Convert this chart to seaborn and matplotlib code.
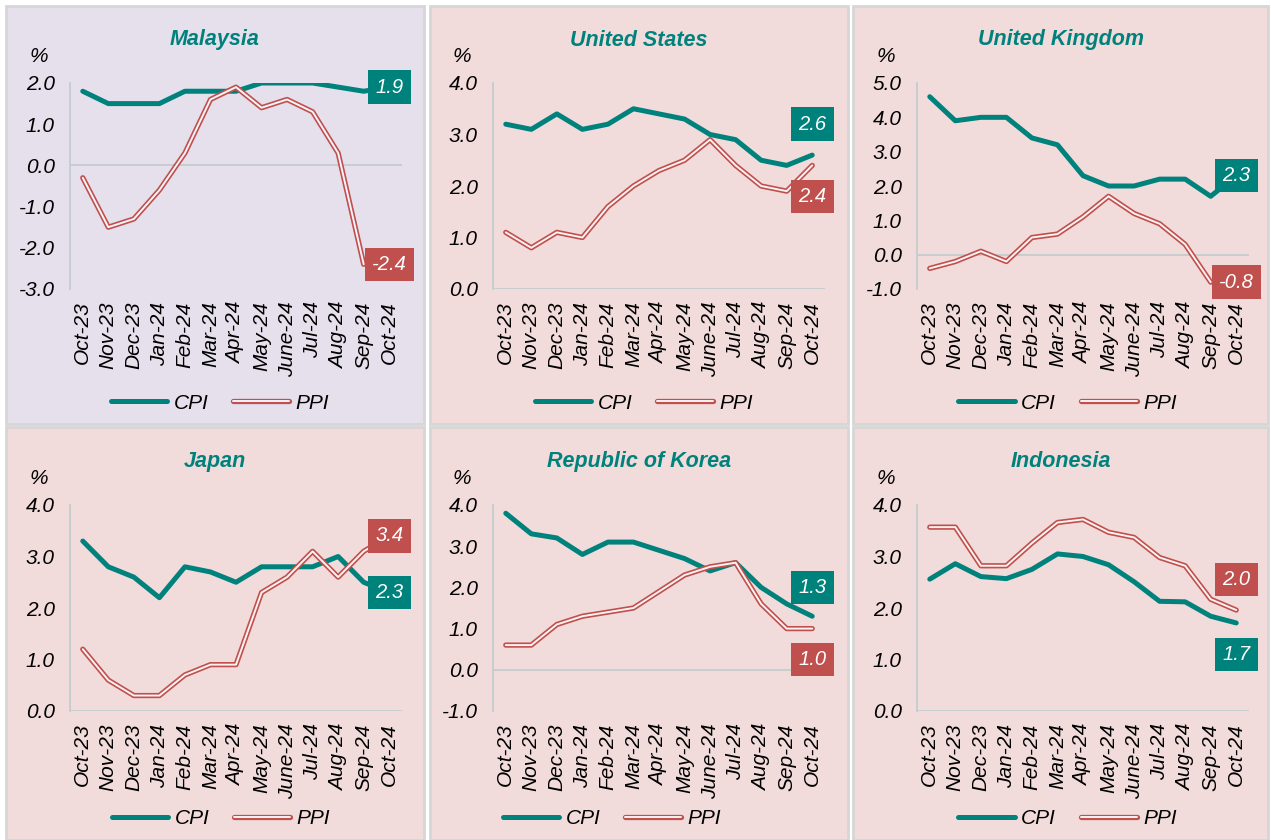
"""CPI and PPI trends, six economies, Oct-23 to Oct-24."""
import matplotlib

matplotlib.use("Agg")
import matplotlib.pyplot as plt
import numpy as np
import pandas as pd
import seaborn as sns
from matplotlib.lines import Line2D
from matplotlib.patches import Rectangle

months = ["Oct-23", "Nov-23", "Dec-23", "Jan-24", "Feb-24", "Mar-24", "Apr-24",
          "May-24", "June-24", "Jul-24", "Aug-24", "Sep-24", "Oct-24"]

countries = ["Malaysia", "United States", "United Kingdom",
             "Japan", "Republic of Korea", "Indonesia"]

nan = np.nan
cpi_malaysia = [1.8, 1.5, 1.5, 1.5, 1.8, 1.8, 1.8, 2.0, 2.0, 2.0, 1.9, 1.8, 1.9]
ppi_malaysia = [-0.3, -1.5, -1.3, -0.6, 0.3, 1.6, 1.9, 1.4, 1.6, 1.3, 0.3, -2.4, nan]
cpi_us = [3.2, 3.1, 3.4, 3.1, 3.2, 3.5, 3.4, 3.3, 3.0, 2.9, 2.5, 2.4, 2.6]
ppi_us = [1.1, 0.8, 1.1, 1.0, 1.6, 2.0, 2.3, 2.5, 2.9, 2.4, 2.0, 1.9, 2.4]
cpi_uk = [4.6, 3.9, 4.0, 4.0, 3.4, 3.2, 2.3, 2.0, 2.0, 2.2, 2.2, 1.7, 2.3]
ppi_uk = [-0.4, -0.2, 0.1, -0.2, 0.5, 0.6, 1.1, 1.7, 1.2, 0.9, 0.3, -0.8, nan]
cpi_japan = [3.3, 2.8, 2.6, 2.2, 2.8, 2.7, 2.5, 2.8, 2.8, 2.8, 3.0, 2.5, 2.3]
ppi_japan = [1.2, 0.6, 0.3, 0.3, 0.7, 0.9, 0.9, 2.3, 2.6, 3.1, 2.6, 3.1, 3.4]
cpi_korea = [3.8, 3.3, 3.2, 2.8, 3.1, 3.1, 2.9, 2.7, 2.4, 2.6, 2.0, 1.6, 1.3]
ppi_korea = [0.6, 0.6, 1.1, 1.3, 1.4, 1.5, 1.9, 2.3, 2.5, 2.6, 1.6, 1.0, 1.0]
cpi_indonesia = [2.56, 2.86, 2.61, 2.57, 2.75, 3.05, 3.00, 2.84, 2.51, 2.13, 2.12, 1.84, 1.71]
ppi_indonesia = [3.57, 3.57, 2.82, 2.82, 3.26, 3.66, 3.72, 3.47, 3.37, 2.98, 2.82, 2.17, 1.96]

cpi_all = [cpi_malaysia, cpi_us, cpi_uk, cpi_japan, cpi_korea, cpi_indonesia]
ppi_all = [ppi_malaysia, ppi_us, ppi_uk, ppi_japan, ppi_korea, ppi_indonesia]

y_limits = [(-3, 2), (0, 4), (-1, 5), (0, 4), (-1, 4), (0, 4)]

# where the end-value boxes sit (y in data units, at the last month)
cpi_box_y = [1.9, 3.2, 2.3, 2.3, 2.0, 1.1]
ppi_box_y = [-2.4, 1.8, -0.8, 3.4, 0.25, 2.55]

TEAL = "#00827c"
RED = "#c0504d"
BG = ["#e5e0ec", "#f2dcdb", "#f2dcdb", "#f2dcdb", "#f2dcdb", "#f2dcdb"]
INNER = ["#f6f3f9", "#fbf2f2", "#fbf2f2", "#fbf2f2", "#fbf2f2", "#fbf2f2"]
AXIS = "#c3cdce"
FS = 15

sns.set_theme(style="white")
plt.rcParams["font.family"] = ["Liberation Sans", "DejaVu Sans"]
plt.rcParams["axes.unicode_minus"] = False
plt.rcParams["text.color"] = "black"

W, H = 1271, 840
fig = plt.figure(figsize=(W / 100, H / 100), dpi=100)
fig.patch.set_facecolor("white")

panel_x = [(6, 424), (430, 848), (853, 1268)]
panel_y = [(6, 424), (427, 840)]
axes_left = [70, 493, 917]
axes_top = [83, 505]
axes_bottom = [289, 711]
axes_w = 332
legend_shift = [5, 5, 7, 6, -27, 7]

x = np.arange(len(months))

for i, name in enumerate(countries):
    r, c = divmod(i, 3)
    x0, x1 = panel_x[c]
    y0, y1 = panel_y[r]
    fig.patches.append(Rectangle((x0 / W, 1 - y1 / H), (x1 - x0) / W, (y1 - y0) / H,
                                 transform=fig.transFigure, fc=BG[i], ec="#d6d6d6",
                                 lw=2, zorder=-5))
    fig.text((x0 + x1) / 2 / W, 1 - (y0 + 34) / H, name, ha="center", va="center",
             color=TEAL, fontsize=15.5, fontweight="bold", style="italic")

    top, bot = axes_top[r], axes_bottom[r]
    ax = fig.add_axes([axes_left[c] / W, 1 - bot / H, axes_w / W, (bot - top) / H])
    ax.patch.set_visible(False)

    df = pd.DataFrame({"pos": x, "CPI": cpi_all[i], "PPI": ppi_all[i]})
    ax.axhline(0, color=AXIS, lw=1.3, zorder=1)
    sns.lineplot(data=df, x="pos", y="CPI", ax=ax, color=TEAL, lw=3.6, zorder=3)
    sns.lineplot(data=df, x="pos", y="PPI", ax=ax, color=RED, lw=3.8, zorder=4)
    sns.lineplot(data=df, x="pos", y="PPI", ax=ax, color=INNER[i], lw=1.4, zorder=5)

    lo, hi = y_limits[i]
    ticks = np.arange(lo, hi + 0.01, 1.0)
    ax.set_ylim(lo, hi)
    ax.set_xlim(-0.5, len(months) - 0.5)
    ax.set_yticks(ticks)
    ax.set_yticklabels([f"{v:.1f}" for v in ticks], fontsize=FS, style="italic", color="black")
    ax.set_xticks(x)
    ax.set_xticklabels(months, rotation=90, fontsize=FS, style="italic", color="black")
    ax.tick_params(axis="both", length=0)
    ax.tick_params(axis="y", pad=11)
    ax.tick_params(axis="x", pad=9)
    ax.set_xlabel("")
    ax.set_ylabel("")
    for s in ["top", "right", "bottom"]:
        ax.spines[s].set_visible(False)
    ax.spines["left"].set_color(AXIS)
    ax.spines["left"].set_linewidth(1.3)

    ax.annotate("%", xy=(0, 1), xycoords="axes fraction", xytext=(-29, 19),
                textcoords="offset points", ha="left", va="center",
                fontsize=FS, style="italic")

    # end-value boxes
    last_cpi = df["CPI"].dropna().iloc[-1]
    last_ppi = df["PPI"].dropna().iloc[-1]
    for val, yb, col in [(last_cpi, cpi_box_y[i], TEAL), (last_ppi, ppi_box_y[i], RED)]:
        ax.text(len(months) - 1, yb, f"{val:.1f}", ha="center", va="center",
                color="white", fontsize=14.5, style="italic", zorder=10, clip_on=False,
                bbox=dict(boxstyle="square,pad=0.36", fc=col, ec="none"))

    handles = [Line2D([], [], color=TEAL, lw=3.6),
               (Line2D([], [], color=RED, lw=3.8), Line2D([], [], color=INNER[i], lw=1.4))]
    cx = ((x0 + x1) / 2 + legend_shift[i]) / W
    fig.legend(handles, ["CPI", "PPI"], loc="center", bbox_to_anchor=(cx, 1 - (y1 - 21) / H),
               ncol=2, frameon=False, prop={"size": FS, "style": "italic"},
               handlelength=2.7, handletextpad=0.3, columnspacing=1.2)

fig.savefig("out.png", dpi=100)
plt.close(fig)
